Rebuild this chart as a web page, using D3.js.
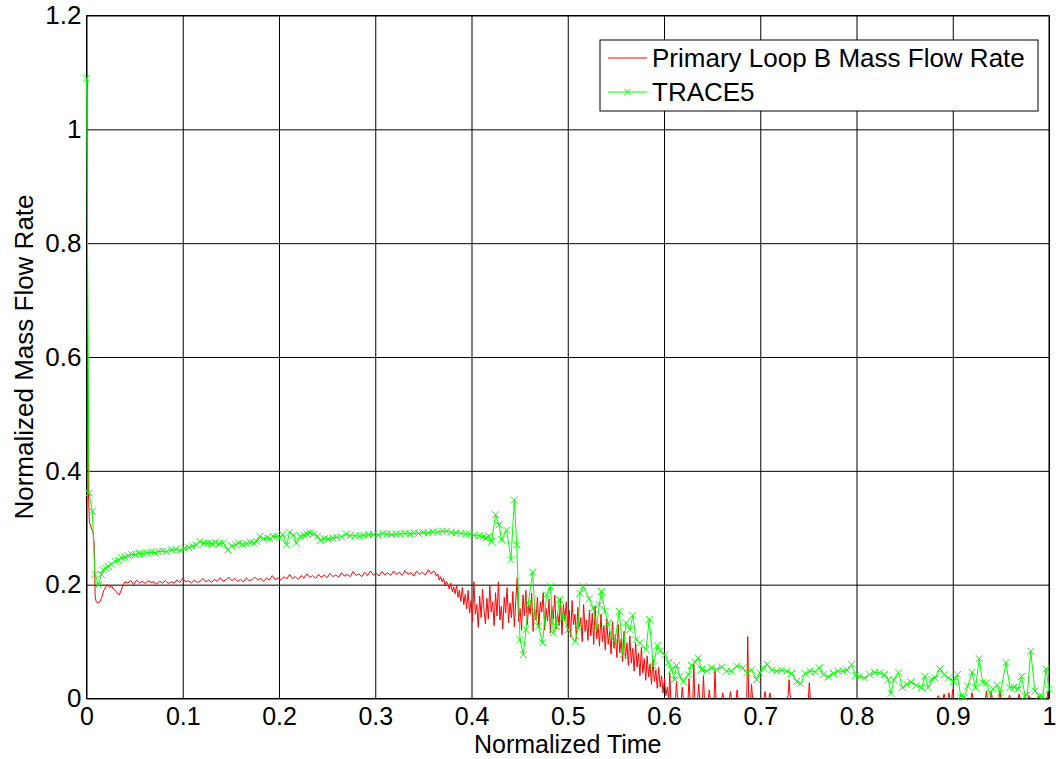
<!DOCTYPE html>
<html>
<head>
<meta charset="utf-8">
<script src="https://cdnjs.cloudflare.com/ajax/libs/d3/7.8.5/d3.min.js"></script>
<style>
  body { margin: 0; background: #fff; }
  svg text { font-family: "Liberation Sans", Arial, sans-serif; fill: #000; }
</style>
</head>
<body>
<div id="chart"></div>
<script>
// tick values
var xTicks = [0, 0.1, 0.2, 0.3, 0.4, 0.5, 0.6, 0.7, 0.8, 0.9, 1];
var yTicks = [0, 0.2, 0.4, 0.6, 0.8, 1, 1.2];

var seriesNames = ["Primary Loop B Mass Flow Rate", "TRACE5"];

// measured primary loop B flow  [normalized time, normalized flow]
var primaryLoopB = [
  [0, 1.0], [0.001, 0.62], [0.002, 0.36], [0.003, 0.31], [0.005, 0.30], [0.007, 0.29], [0.008, 0.27],
  [0.009, 0.18], [0.010, 0.17], [0.012, 0.168], [0.014, 0.17], [0.016, 0.178], [0.018, 0.19],
  [0.020, 0.196], [0.022, 0.2], [0.024, 0.195], [0.026, 0.198], [0.028, 0.192], [0.030, 0.19],
  [0.032, 0.185], [0.034, 0.182], [0.036, 0.19], [0.038, 0.2], [0.040, 0.205], [0.043, 0.203],
  [0.046, 0.207], [0.049, 0.2], [0.052, 0.208], [0.055, 0.203], [0.058, 0.206], [0.061, 0.202],
  [0.064, 0.207], [0.067, 0.204], [0.070, 0.205], [0.073, 0.201], [0.076, 0.206], [0.079, 0.203],
  [0.082, 0.207], [0.085, 0.202], [0.088, 0.205], [0.091, 0.203], [0.094, 0.208], [0.097, 0.204],
  [0.100, 0.211], [0.103, 0.205], [0.106, 0.207], [0.109, 0.203], [0.112, 0.208], [0.115, 0.204],
  [0.118, 0.206], [0.121, 0.211], [0.124, 0.205], [0.127, 0.208], [0.130, 0.204], [0.133, 0.209],
  [0.136, 0.206], [0.139, 0.212], [0.142, 0.206], [0.145, 0.209], [0.148, 0.213], [0.151, 0.207],
  [0.154, 0.211], [0.157, 0.206], [0.160, 0.209], [0.163, 0.205], [0.166, 0.212], [0.169, 0.207],
  [0.172, 0.209], [0.175, 0.213], [0.178, 0.208], [0.181, 0.211], [0.184, 0.206], [0.187, 0.212],
  [0.190, 0.208], [0.193, 0.216], [0.196, 0.209], [0.199, 0.212], [0.202, 0.208], [0.205, 0.214],
  [0.208, 0.21], [0.211, 0.218], [0.214, 0.211], [0.217, 0.214], [0.220, 0.209], [0.223, 0.216],
  [0.226, 0.211], [0.229, 0.219], [0.232, 0.213], [0.235, 0.216], [0.238, 0.211], [0.241, 0.218],
  [0.244, 0.213], [0.247, 0.217], [0.250, 0.212], [0.253, 0.22], [0.256, 0.214], [0.259, 0.217],
  [0.262, 0.213], [0.265, 0.221], [0.268, 0.215], [0.271, 0.218], [0.274, 0.214], [0.277, 0.223],
  [0.280, 0.216], [0.283, 0.219], [0.286, 0.214], [0.289, 0.222], [0.292, 0.216], [0.295, 0.224],
  [0.298, 0.217], [0.301, 0.22], [0.304, 0.215], [0.307, 0.223], [0.310, 0.217], [0.313, 0.221],
  [0.316, 0.216], [0.319, 0.224], [0.322, 0.218], [0.325, 0.222], [0.328, 0.216], [0.331, 0.225],
  [0.334, 0.218], [0.337, 0.221], [0.340, 0.215], [0.343, 0.224], [0.346, 0.218], [0.349, 0.222],
  [0.352, 0.217], [0.355, 0.226], [0.358, 0.219], [0.3605, 0.224],
  [0.3620, 0.222], [0.3635, 0.215], [0.3650, 0.219], [0.3665, 0.208], [0.3680, 0.214], [0.3695, 0.205],
  [0.3710, 0.211], [0.3725, 0.198], [0.3740, 0.206], [0.3755, 0.2], [0.3770, 0.192], [0.3785, 0.203],
  [0.3800, 0.188], [0.3815, 0.196], [0.3830, 0.184], [0.3845, 0.199], [0.3860, 0.178], [0.3875, 0.19],
  [0.3890, 0.171], [0.3905, 0.195], [0.3920, 0.165], [0.3935, 0.183], [0.3950, 0.158], [0.3965, 0.19],
  [0.3980, 0.15], [0.3995, 0.172], [0.4010, 0.135], [0.4025, 0.205], [0.4040, 0.148], [0.4055, 0.165],
  [0.4070, 0.125], [0.4085, 0.18], [0.4100, 0.142], [0.4115, 0.192], [0.4130, 0.155], [0.4145, 0.131],
  [0.4160, 0.176], [0.4175, 0.14], [0.4190, 0.198], [0.4205, 0.152], [0.4220, 0.17], [0.4235, 0.128],
  [0.4250, 0.186], [0.4265, 0.145], [0.4280, 0.205], [0.4295, 0.138], [0.4310, 0.162], [0.4325, 0.122],
  [0.4340, 0.178], [0.4355, 0.15], [0.4370, 0.195], [0.4385, 0.133], [0.4400, 0.168], [0.4415, 0.142],
  [0.4430, 0.188], [0.4445, 0.126], [0.4460, 0.172], [0.4475, 0.212], [0.4490, 0.135], [0.4505, 0.158],
  [0.4520, 0.12], [0.4535, 0.182], [0.4550, 0.145], [0.4565, 0.19], [0.4580, 0.13], [0.4595, 0.165],
  [0.4610, 0.148], [0.4625, 0.185], [0.4640, 0.118], [0.4655, 0.16], [0.4670, 0.138], [0.4685, 0.178],
  [0.4700, 0.125], [0.4715, 0.17], [0.4730, 0.152], [0.4745, 0.186], [0.4760, 0.12], [0.4775, 0.158],
  [0.4790, 0.136], [0.4805, 0.175], [0.4820, 0.115], [0.4835, 0.162], [0.4850, 0.14], [0.4865, 0.182],
  [0.4880, 0.122], [0.4895, 0.15], [0.4910, 0.128], [0.4925, 0.176], [0.4940, 0.112], [0.4955, 0.165],
  [0.4970, 0.138], [0.4985, 0.17], [0.5000, 0.118], [0.5015, 0.155], [0.5030, 0.108], [0.5045, 0.172],
  [0.5060, 0.13], [0.5075, 0.148], [0.5090, 0.105], [0.5105, 0.16], [0.5120, 0.125], [0.5135, 0.142],
  [0.5150, 0.1], [0.5165, 0.165], [0.5180, 0.118], [0.5195, 0.138], [0.5210, 0.102], [0.5225, 0.155],
  [0.5240, 0.11], [0.5255, 0.15], [0.5270, 0.095], [0.5285, 0.162], [0.5300, 0.105], [0.5315, 0.13],
  [0.5330, 0.092], [0.5345, 0.148], [0.5360, 0.1], [0.5375, 0.128], [0.5390, 0.085], [0.5405, 0.14],
  [0.5420, 0.095], [0.5435, 0.118], [0.5450, 0.078], [0.5465, 0.135], [0.5480, 0.088], [0.5495, 0.112],
  [0.5510, 0.072], [0.5525, 0.13], [0.5540, 0.08], [0.5555, 0.105], [0.5570, 0.065], [0.5585, 0.118],
  [0.5600, 0.07], [0.5615, 0.098], [0.5630, 0.058], [0.5645, 0.11], [0.5660, 0.062], [0.5675, 0.088],
  [0.5690, 0.048], [0.5705, 0.098], [0.5720, 0.055], [0.5735, 0.08], [0.5750, 0.04], [0.5765, 0.09],
  [0.5780, 0.045], [0.5795, 0.07], [0.5810, 0.032], [0.5825, 0.075], [0.5840, 0.038], [0.5855, 0.06],
  [0.5870, 0.025], [0.5885, 0.068], [0.5900, 0.03], [0.5915, 0.05], [0.5930, 0.018], [0.5945, 0.055],
  [0.5960, 0.02], [0.5975, 0.04], [0.5990, 0.01], [0.6005, 0.035], [0.6020, 0.005], [0.6035, 0.02],
  [0.6050, 0], [0.6060, 0.045], [0.6070, 0],
  [0.612, 0], [0.613, 0.03], [0.614, 0], [0.618, 0], [0.619, 0.02], [0.620, 0],
  [0.625, 0], [0.626, 0.035], [0.627, 0], [0.630, 0], [0.631, 0.06], [0.632, 0],
  [0.635, 0], [0.636, 0.025], [0.637, 0], [0.640, 0], [0.641, 0.04], [0.642, 0],
  [0.646, 0], [0.647, 0.015], [0.648, 0], [0.652, 0], [0.653, 0.05], [0.654, 0],
  [0.660, 0], [0.661, 0.01], [0.662, 0], [0.668, 0], [0.669, 0.012], [0.670, 0],
  [0.675, 0], [0.676, 0.015], [0.677, 0], [0.686, 0], [0.687, 0.109], [0.688, 0],
  [0.690, 0], [0.691, 0.025], [0.692, 0], [0.704, 0], [0.705, 0.012], [0.706, 0],
  [0.709, 0], [0.710, 0.01], [0.711, 0], [0.728, 0], [0.729, 0.006], [0.730, 0.033],
  [0.731, 0.006], [0.732, 0], [0.750, 0], [0.751, 0.028], [0.752, 0],
  [0.884, 0], [0.885, 0.005], [0.886, 0], [0.890, 0], [0.891, 0.008], [0.892, 0],
  [0.895, 0], [0.896, 0.01], [0.897, 0], [0.899, 0], [0.900, 0.016], [0.901, 0],
  [0.919, 0], [0.920, 0.01], [0.921, 0], [0.934, 0], [0.935, 0.013], [0.936, 0],
  [0.939, 0], [0.940, 0.01], [0.941, 0], [0.948, 0], [0.949, 0.015], [0.950, 0],
  [0.958, 0], [0.959, 0.006], [0.960, 0], [0.968, 0], [0.969, 0.008], [0.970, 0],
  [0.978, 0], [0.979, 0.006], [0.980, 0], [0.988, 0], [0.989, 0.005], [0.990, 0],
  [0.998, 0], [0.999, 0.012], [1.0, 0]
];

// TRACE5 calculation  [normalized time, normalized flow]
var trace5 = [
  [0, 1.09], [0.0026, 0.361], [0.006, 0.329], [0.0088, 0.218], [0.0123, 0.2], [0.0155, 0.218],
  [0.0175, 0.226], [0.02, 0.229], [0.0226, 0.232], [0.026, 0.236], [0.0296, 0.241], [0.033, 0.243],
  [0.0366, 0.247], [0.040, 0.248], [0.0435, 0.251], [0.047, 0.253], [0.051, 0.253], [0.055, 0.255],
  [0.059, 0.254], [0.063, 0.256], [0.067, 0.257], [0.071, 0.256], [0.0746, 0.258], [0.079, 0.259],
  [0.083, 0.258], [0.0885, 0.261], [0.093, 0.262], [0.097, 0.26], [0.102, 0.264], [0.106, 0.265],
  [0.110, 0.268], [0.114, 0.27], [0.118, 0.276], [0.122, 0.273], [0.126, 0.272], [0.13, 0.272],
  [0.134, 0.274], [0.138, 0.272], [0.142, 0.273], [0.147, 0.261], [0.151, 0.268], [0.155, 0.27],
  [0.158, 0.273], [0.162, 0.271], [0.166, 0.272], [0.170, 0.274], [0.174, 0.273], [0.177, 0.276],
  [0.180, 0.285], [0.184, 0.281], [0.188, 0.282], [0.191, 0.28], [0.194, 0.285], [0.198, 0.284],
  [0.201, 0.283], [0.204, 0.288], [0.208, 0.27], [0.211, 0.292], [0.215, 0.287], [0.218, 0.273],
  [0.222, 0.285], [0.226, 0.287], [0.229, 0.289], [0.232, 0.291], [0.236, 0.289], [0.240, 0.285],
  [0.243, 0.278], [0.247, 0.281], [0.251, 0.28], [0.256, 0.282], [0.26, 0.283], [0.265, 0.284],
  [0.27, 0.289], [0.274, 0.286], [0.279, 0.286], [0.284, 0.285], [0.288, 0.287], [0.293, 0.288],
  [0.298, 0.288], [0.303, 0.287], [0.308, 0.29], [0.312, 0.289], [0.317, 0.288], [0.322, 0.289],
  [0.326, 0.289], [0.331, 0.29], [0.336, 0.289], [0.34, 0.291], [0.345, 0.29], [0.35, 0.292],
  [0.355, 0.291], [0.36, 0.293], [0.365, 0.292], [0.37, 0.294], [0.374, 0.294], [0.379, 0.292],
  [0.384, 0.291], [0.389, 0.29], [0.394, 0.289], [0.398, 0.289], [0.403, 0.287], [0.408, 0.286],
  [0.412, 0.284], [0.415, 0.282], [0.418, 0.285], [0.421, 0.276], [0.425, 0.323], [0.4286, 0.305],
  [0.4314, 0.279], [0.4365, 0.296], [0.441, 0.244], [0.4445, 0.349], [0.447, 0.27], [0.4504, 0.1035],
  [0.4538, 0.077], [0.4566, 0.121], [0.459, 0.168], [0.4636, 0.222], [0.466, 0.147], [0.4694, 0.127],
  [0.474, 0.098], [0.478, 0.182], [0.482, 0.197], [0.485, 0.115], [0.488, 0.127], [0.4913, 0.174],
  [0.4954, 0.142], [0.5006, 0.121], [0.5075, 0.1], [0.511, 0.124], [0.5127, 0.185], [0.516, 0.197],
  [0.5224, 0.175], [0.5265, 0.159], [0.530, 0.124], [0.5328, 0.165], [0.535, 0.188], [0.5387, 0.153],
  [0.542, 0.133], [0.5456, 0.106], [0.549, 0.1], [0.5535, 0.153], [0.5576, 0.077], [0.5605, 0.133],
  [0.5647, 0.121], [0.5675, 0.146], [0.571, 0.1035], [0.575, 0.098], [0.5813, 0.086], [0.5847, 0.139],
  [0.5889, 0.057], [0.593, 0.093], [0.596, 0.083], [0.6011, 0.077], [0.6045, 0.063], [0.608, 0.051],
  [0.6107, 0.033], [0.613, 0.058], [0.6166, 0.039], [0.62, 0.03], [0.6252, 0.042], [0.6287, 0.058],
  [0.632, 0.064], [0.6356, 0.071], [0.639, 0.051], [0.6443, 0.048], [0.6495, 0.054], [0.6547, 0.051],
  [0.66, 0.0556], [0.665, 0.048], [0.67, 0.048], [0.6755, 0.057], [0.6818, 0.054], [0.686, 0.045],
  [0.691, 0.05], [0.6963, 0.033], [0.6997, 0.045], [0.7032, 0.054], [0.7073, 0.06], [0.7119, 0.05],
  [0.717, 0.048], [0.7222, 0.05], [0.7274, 0.048], [0.7326, 0.044], [0.7378, 0.03], [0.742, 0.026],
  [0.7465, 0.044], [0.7517, 0.048], [0.757, 0.047], [0.7613, 0.054], [0.7655, 0.042], [0.7707, 0.038],
  [0.776, 0.044], [0.781, 0.048], [0.786, 0.048], [0.79, 0.05], [0.795, 0.06], [0.799, 0.04],
  [0.803, 0.039], [0.8083, 0.036], [0.8135, 0.042], [0.8187, 0.046], [0.824, 0.045], [0.829, 0.042],
  [0.833, 0.033], [0.8358, 0.009], [0.839, 0.033], [0.8437, 0.045], [0.8478, 0.019], [0.852, 0.025],
  [0.8567, 0.029], [0.862, 0.023], [0.8676, 0.019], [0.8711, 0.039], [0.8745, 0.019], [0.878, 0.034],
  [0.8815, 0.036], [0.8867, 0.052], [0.891, 0.042], [0.8955, 0.036], [0.9007, 0.03], [0.9048, 0.042],
  [0.9083, 0.004], [0.912, 0.002], [0.9155, 0.0216], [0.92, 0.046], [0.9237, 0.019], [0.9275, 0.07],
  [0.931, 0.0275], [0.935, 0.0275], [0.9387, 0.009], [0.942, 0.017], [0.946, 0.023], [0.9496, 0.01],
  [0.9553, 0.063], [0.9595, 0.019], [0.9636, 0.02], [0.968, 0.017], [0.9716, 0.039], [0.975, 0.004],
  [0.9775, 0.007], [0.981, 0.083], [0.9854, 0.013], [0.99, 0.004], [0.9935, 0.003], [0.9969, 0.052],
  [1.0, 0.016]
];

drawFlowChart();
function drawFlowChart(){
    var margin = {top: 15.5, right: 7, bottom: 60.5, left: 86.5},
    width = 1056 - margin.left - margin.right,
    height = 759 - margin.top - margin.bottom;

    var svg = d3.select("#chart")
    .append("svg")
        .attr("width", 1056)
        .attr("height", 759)
    .append("g")
        .attr("transform", "translate(" + margin.left + "," + margin.top + ")");

    var x = d3.scaleLinear().domain([0, 1]).range([0, width]);
    var y = d3.scaleLinear().domain([0, 1.2]).range([height, 0]);
    var fmt = d3.format("~g");

    // x grid + labels
    var xAxis = svg.append("g")
        .attr("transform", "translate(0," + height + ")")
        .call(d3.axisBottom(x).tickValues(xTicks).tickFormat(fmt).tickSize(-height).tickPadding(9));
    xAxis.select(".domain").remove();
    xAxis.selectAll("line").attr("stroke", "#000");
    xAxis.selectAll("text").attr("font-size", 25).attr("font-family", "Liberation Sans, Arial, sans-serif");

    // y grid + labels
    var yAxis = svg.append("g")
        .call(d3.axisLeft(y).tickValues(yTicks).tickFormat(fmt).tickSize(-width).tickPadding(5));
    yAxis.select(".domain").remove();
    yAxis.selectAll("line").attr("stroke", "#000");
    yAxis.selectAll("text").attr("font-size", 26).attr("font-family", "Liberation Sans, Arial, sans-serif");

    var line = d3.line()
        .x(function(d) { return x(d[0]); })
        .y(function(d) { return y(d[1]); });

    // measured flow
    svg.append("path")
        .datum(primaryLoopB)
        .attr("fill", "none")
        .attr("stroke", "#ff0000")
        .attr("stroke-width", 1)
        .attr("d", line);

    // box around the axes
    svg.append("rect")
        .attr("width", width)
        .attr("height", height)
        .attr("fill", "none")
        .attr("stroke", "#000")
        .attr("stroke-width", 1);

    // TRACE5 line with x markers
    svg.append("path")
        .datum(trace5)
        .attr("fill", "none")
        .attr("stroke", "#00ff00")
        .attr("stroke-width", 1)
        .attr("d", line);

    var cross = "M-3.5,-3.5L3.5,3.5M-3.5,3.5L3.5,-3.5";
    svg.append("g")
        .selectAll("path")
        .data(trace5)
        .enter()
        .append("path")
        .attr("transform", function(d) { return "translate(" + x(d[0]) + "," + y(d[1]) + ")"; })
        .attr("d", cross)
        .attr("fill", "none")
        .attr("stroke", "#00ff00")
        .attr("stroke-width", 1);

    // axis titles
    svg.append("text")
        .attr("text-anchor", "middle")
        .attr("x", width / 2)
        .attr("y", height + 54.5)
        .attr("font-size", 25)
        .text("Normalized Time");

    svg.append("text")
        .attr("text-anchor", "middle")
        .attr("transform", "translate(" + (-54) + "," + (height / 2) + ")rotate(-90)")
        .attr("font-size", 26)
        .text("Normalized Mass Flow Rate");

    // legend
    var legend = svg.append("g")
        .attr("transform", "translate(" + (600 - margin.left) + "," + (40 - margin.top) + ")");
    legend.append("rect")
        .attr("width", 438)
        .attr("height", 71)
        .attr("fill", "#fff")
        .attr("stroke", "#000")
        .attr("stroke-width", 1);

    var colors = ["#ff0000", "#00ff00"];
    seriesNames.forEach(function(name, i) {
        var ly = 18 + i * 34;
        legend.append("line")
            .attr("x1", 8).attr("x2", 47)
            .attr("y1", ly).attr("y2", ly)
            .attr("stroke", colors[i]);
        if (i == 1) {
            legend.append("path")
                .attr("transform", "translate(27.5," + ly + ")")
                .attr("d", "M-3,-3L3,3M-3,3L3,-3")
                .attr("stroke", colors[i])
                .attr("fill", "none");
        }
        legend.append("text")
            .attr("x", 52)
            .attr("y", ly + 9)
            .attr("font-size", 26)
            .text(name);
    });
}
</script>
</body>
</html>
